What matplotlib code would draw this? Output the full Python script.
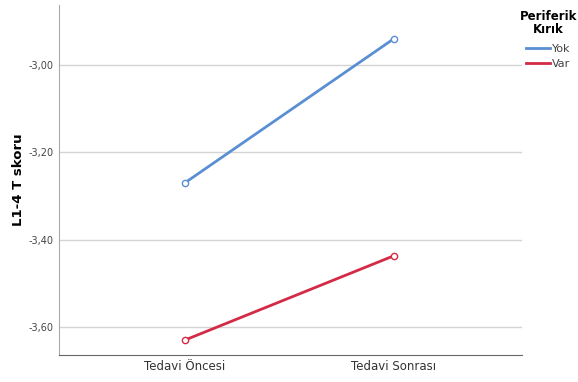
import numpy as np
import matplotlib.pyplot as plt
from matplotlib.lines import Line2D

categories = ['Tedavi Öncesi', 'Tedavi Sonrası']
groups = ['Yok', 'Var']
yok = [-3.270, -2.940]
var = [-3.630, -3.437]
yticks = [-3.60, -3.40, -3.20, -3.00]
ytick_labels = ['-3,60', '-3,40', '-3,20', '-3,00']
colors = ['#5a8fd3', '#d42a45']

fig = plt.figure(figsize=(5.78, 3.82), dpi=100)
ax = fig.add_axes([0.102, 0.071, 0.801, 0.916])

x = np.arange(len(categories))
for vals, c in zip([yok, var], colors):
    ax.plot(x, vals, color=c, lw=2, marker='o', ms=4.5, mfc='white', mew=1)

ax.set_xlim(-0.603, 1.612)
ax.set_ylim(-3.664, -2.863)
ax.set_xticks(x)
ax.set_xticklabels(categories, fontsize=8.5, color='#333333')
ax.set_yticks(yticks)
ax.set_yticklabels(ytick_labels, fontsize=7, color='#444444')
ax.tick_params(length=0, pad=4)
ax.set_ylabel('L1-4 T skoru', fontsize=9.5, fontweight='bold', labelpad=2)

ax.grid(axis='y', color='#d4d4d4', lw=1)
ax.set_axisbelow(True)
for s in ['top', 'right']:
    ax.spines[s].set_visible(False)
ax.spines['left'].set_color('#aaaaaa')
ax.spines['bottom'].set_color('#666666')

handles = [Line2D([], [], color=c, lw=2) for c in colors]
leg = fig.legend(handles, groups, loc='upper right', bbox_to_anchor=(0.998, 0.975), frameon=False,
                 title='Periferik\nKırık', fontsize=8, handlelength=2.2,
                 handletextpad=0.2, labelspacing=0.45, borderaxespad=0, borderpad=0)
leg.get_title().set_fontweight('bold')
leg.get_title().set_fontsize(8.5)
leg.get_title().set_multialignment('center')
leg.get_title().set_linespacing(1.0)
leg._legend_box.sep = 6
for t in leg.get_texts():
    t.set_color('#444444')

fig.savefig('out.png', dpi=100)
